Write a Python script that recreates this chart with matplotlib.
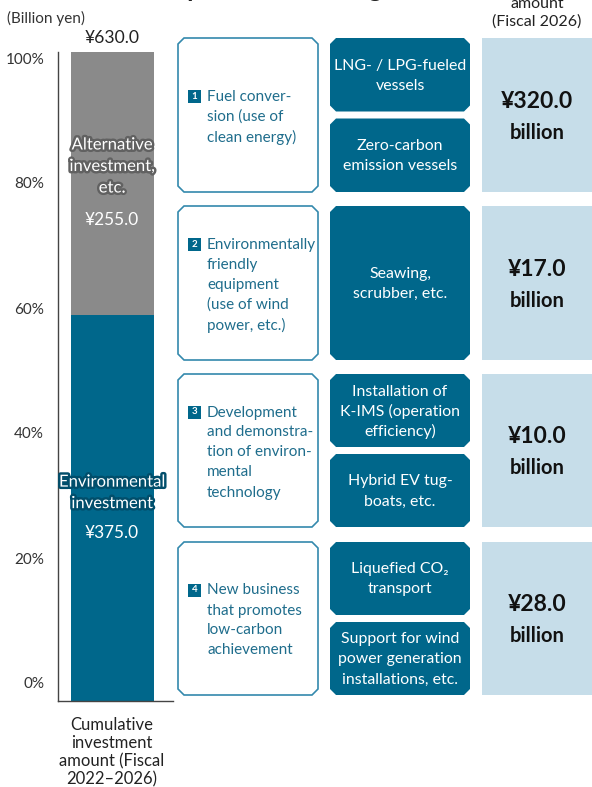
import matplotlib
matplotlib.use("Agg")
import matplotlib.pyplot as plt
import matplotlib.patheffects as pe
from matplotlib.patches import Polygon, Rectangle

plt.rcParams["font.family"] = ["Lato", "DejaVu Sans"]

# ---- data ----
segment_names = ["Environmental\ninvestment", "Alternative\ninvestment,\netc."]
segment_values = [375.0, 255.0]
pct_ticks = [0, 20, 40, 60, 80, 100]
category_numbers = ["1", "2", "3", "4"]
category_titles = [
    "Fuel conver-\nsion (use of\nclean energy)",
    "Environmentally\nfriendly\nequipment\n(use of wind\npower, etc.)",
    "Development\nand demonstra-\ntion of environ-\nmental\ntechnology",
    "New business\nthat promotes\nlow-carbon\nachievement",
]
category_measures = [
    ["LNG- / LPG-fueled\nvessels", "Zero-carbon\nemission vessels"],
    ["Seawing,\nscrubber, etc."],
    ["Installation of\nK-IMS (operation\nefficiency)", "Hybrid EV tug-\nboats, etc."],
    ["Liquefied CO\u2082\ntransport", "Support for wind\npower generation\ninstallations, etc."],
]
category_amounts = [320.0, 17.0, 10.0, 28.0]

# ---- style ----
TEAL = "#00678b"
TEAL_TEXT = "#1f6d8c"
BORDER = "#3489ad"
GREY = "#8a8a8a"
LIGHT = "#c6dde9"
DARK = "#222222"

W, H = 592, 787
fig = plt.figure(figsize=(W / 100, H / 100), dpi=100)
ov = fig.add_axes([0, 0, 1, 1])
ov.set_xlim(0, W)
ov.set_ylim(H, 0)
ov.axis("off")


def chamfer_box(ax, x0, y0, x1, y1, cut=6, **kw):
    pts = [
        (x0 + cut, y0), (x1 - cut, y0), (x1, y0 + cut), (x1, y1 - cut),
        (x1 - cut, y1), (x0 + cut, y1), (x0, y1 - cut), (x0, y0 + cut),
    ]
    ax.add_patch(Polygon(pts, closed=True, **kw))


def line_stack(ax, x, yc, text, lh=20, **kw):
    lines = text.split("\n")
    n = len(lines)
    for i, line in enumerate(lines):
        ax.text(x, yc + (i - (n - 1) / 2) * lh, line, va="center", **kw)
    return yc - (n - 1) / 2 * lh


# ---- stacked bar ----
bar_top, bar_base = 52, 701
total = sum(segment_values)
bx = fig.add_axes([58 / W, (H - bar_base) / H, 115 / W, (bar_base - bar_top) / H])
bx.set_xlim(0, 1)
bx.set_ylim(0, total)
seg_colors = [TEAL, GREY]
glow = ["#014e6b", "#616161"]
name_frac = [0.54, 0.566]
val_frac = [0.435, 0.36]
px_per_val = (bar_base - bar_top) / total
bottom = 0
for i, v in enumerate(segment_values):
    bx.bar(0.47, v, width=0.722, bottom=bottom, color=seg_colors[i], linewidth=0)
    lines = segment_names[i].split("\n")
    yc = bottom + v * name_frac[i]
    for k, line in enumerate(lines):
        off = (k - (len(lines) - 1) / 2) * 21.5 / px_per_val
        bx.text(0.47, yc - off, line, ha="center", va="center", color="white", fontsize=12,
                path_effects=[pe.withStroke(linewidth=3.5, foreground=glow[i])])
    bx.text(0.47, bottom + v * val_frac[i], f"¥{v:.1f}", ha="center", va="center",
            color="white", fontsize=12.4)
    bottom += v
bx.annotate(f"¥{total:.1f}", (0.47, total), xytext=(0, 14), textcoords="offset pixels",
            ha="center", va="center", fontsize=12.6, color=DARK, annotation_clip=False)

# percent labels sit slightly inside the bar extent
tick_vals = [(bar_base - (683 - 6.25 * p)) / px_per_val for p in pct_ticks]
bx.set_yticks(tick_vals)
bx.set_yticklabels([f"{p}%" for p in pct_ticks], fontsize=11, color="#333333")
bx.tick_params(axis="y", length=0, pad=10)
bx.set_xticks([])
for s in ["top", "right"]:
    bx.spines[s].set_visible(False)
for s in ["left", "bottom"]:
    bx.spines[s].set_color("#444444")
    bx.spines[s].set_linewidth(1)
bx.set_facecolor("none")

ov.text(7, 18, "(Billion yen)", fontsize=11, color="#333333", va="center")
line_stack(ov, 112, 752, "Cumulative\ninvestment\namount (Fiscal\n2022\u20132026)", lh=18,
           ha="center", fontsize=12, color=DARK)

# clipped headers at the very top
ov.text(8, -3, "Investment composition and usage", fontsize=18, fontweight="bold",
        color=DARK, va="baseline")
line_stack(ov, 537, 4, "Investment\namount\n(Fiscal 2026)", lh=18, ha="center",
           fontsize=11.5, color=DARK)

# ---- category rows ----
rows = [(38, 192), (206, 360), (374, 527), (542, 695)]
gap = 7
for i, (y0, y1) in enumerate(rows):
    yc = (y0 + y1) / 2
    chamfer_box(ov, 178, y0, 318, y1, facecolor="white", edgecolor=BORDER, linewidth=1.2)
    first = line_stack(ov, 207, yc + 2, category_titles[i], ha="left",
                       fontsize=11, color=TEAL_TEXT)
    ov.add_patch(Rectangle((188, first - 7), 13, 13, facecolor=TEAL, edgecolor="none"))
    ov.text(194.5, first - 0.5, category_numbers[i], ha="center", va="center", color="white",
            fontsize=7, fontweight="bold")

    measures = category_measures[i]
    n = len(measures)
    h = (y1 - y0 - gap * (n - 1)) / n
    for j, m in enumerate(measures):
        my0 = y0 + j * (h + gap)
        chamfer_box(ov, 330, my0, 470, my0 + h, facecolor=TEAL, edgecolor="none")
        line_stack(ov, 400, my0 + h / 2 + 1, m, ha="center", fontsize=11.4, color="white")

    ov.add_patch(Rectangle((482, y0), 120, y1 - y0, facecolor=LIGHT, edgecolor="none"))
    ov.text(537, yc - 14, f"¥{category_amounts[i]:.1f}", ha="center", va="center",
            fontsize=16.5, fontweight="bold", color="#111111")
    ov.text(537, yc + 18, "billion", ha="center", va="center", fontsize=14.5,
            fontweight="bold", color="#111111")

fig.savefig("out.png", dpi=100)
